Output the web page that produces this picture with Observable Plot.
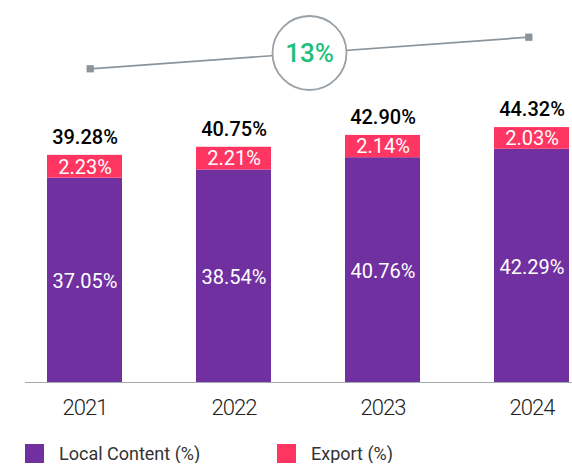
<!DOCTYPE html>
<html>
<head>
<meta charset="utf-8">
<script src="https://cdn.jsdelivr.net/npm/d3@7"></script>
<script src="https://cdn.jsdelivr.net/npm/@observablehq/plot@0.6"></script>
<style>
  html, body { margin: 0; padding: 0; background: #fff; }
  body { width: 572px; font-family: Roboto, sans-serif; }
  svg { display: block; }
  g[aria-label="x-axis tick label"] text { letter-spacing: -1px; }
  .legend { position: relative; height: 19px; margin-top: 12px; font-size: 18px; line-height: 19px; color: #333; }
  .legend .item { position: absolute; top: 0; display: flex; align-items: center; height: 19px; }
  .legend .sw { width: 19px; height: 19px; margin-right: 15px; }
</style>
</head>
<body>
<div id="topchart"></div>
<div id="chart"></div>
<div class="legend" id="legend"></div>
<script>
// ---- data ----
const years = ["2021", "2022", "2023", "2024"];
const localContent = [37.05, 38.54, 40.76, 42.29];
const exportShare = [2.23, 2.21, 2.14, 2.03];
const totals = [39.28, 40.75, 42.90, 44.32];
const seriesNames = ["Local Content (%)", "Export (%)"];
const seriesColors = ["#7030a0", "#ff3562"];

const rows = years.map((year, i) => ({
  year, local: localContent[i], exp: exportShare[i], total: totals[i]
}));
const pct = v => v.toFixed(2) + "%";

// ---- growth indicator (first year -> last year) ----
const firstRow = rows[0], lastRow = rows[rows.length - 1];
const trend = [firstRow, lastRow].map(d => ({ year: +d.year, total: d.total }));
const growth = Math.round((lastRow.total / firstRow.total - 1) * 100);
const mid = [{
  year: (trend[0].year + trend[1].year) / 2,
  total: (trend[0].total + trend[1].total) / 2,
  label: growth + "%"
}];

const topPlot = Plot.plot({
  width: 572, height: 96, margin: 0,
  x: { domain: [trend[0].year, trend[1].year], range: [89.7, 528.3], axis: null },
  y: { domain: [trend[0].total, trend[1].total], range: [68.3, 36.7], axis: null },
  style: { fontFamily: "Roboto, sans-serif", background: "white" },
  marks: [
    Plot.line(trend, { x: "year", y: "total", stroke: "#8b949b", strokeWidth: 1.7 }),
    Plot.dot(trend, { x: "year", y: "total", symbol: "square", r: 4.1, fill: "#8b949b" }),
    Plot.dot(mid, { x: "year", y: "total", r: 37, fill: "white", stroke: "#9aa1a7", strokeWidth: 1.8 }),
    Plot.text(mid, { x: "year", y: "total", text: "label", fill: "#1dbf7a", fontSize: 26, fontWeight: 500, dy: 1 })
  ]
});
document.getElementById("topchart").append(topPlot);

// ---- stacked bars ----
const chart = Plot.plot({
  width: 572, height: 336,
  marginLeft: 25, marginRight: 0, marginTop: 0, marginBottom: 50,
  x: { type: "band", domain: years, range: [9.75, 605.75], paddingInner: 0.5, paddingOuter: 0.25, label: null },
  y: { domain: [0, 51.86], axis: null },
  style: { fontFamily: "Roboto, sans-serif", fontSize: "22px", color: "#222", background: "white" },
  marks: [
    Plot.barY(rows, { x: "year", y1: 0, y2: "local", fill: seriesColors[0] }),
    Plot.barY(rows, { x: "year", y1: "local", y2: "total", fill: seriesColors[1], insetTop: -10.5 }),
    Plot.ruleY([0], { stroke: "#a3abb1", strokeWidth: 1 }),
    Plot.axisX({ tickSize: 0, tickPadding: 17, fontWeight: 300, label: null }),
    Plot.text(rows, { x: "year", y: d => d.local / 2, text: d => pct(d.local), fill: "white", fontSize: 20, dy: 1.5 }),
    Plot.text(rows, { x: "year", y: "local", text: d => pct(d.exp), fill: "white", fontSize: 20, dy: -11 }),
    Plot.text(rows, { x: "year", y: "total", text: d => pct(d.total), fill: "#000", fontSize: 20, fontWeight: 500, lineAnchor: "bottom", dy: -22 })
  ]
});
document.getElementById("chart").append(chart);

// ---- legend ----
const legend = document.getElementById("legend");
const lefts = [25, 277];
seriesNames.forEach((name, i) => {
  const item = document.createElement("div");
  item.className = "item";
  item.style.left = lefts[i] + "px";
  const sw = document.createElement("span");
  sw.className = "sw";
  sw.style.background = seriesColors[i];
  const t = document.createElement("span");
  t.textContent = name;
  item.append(sw, t);
  legend.append(item);
});
</script>
</body>
</html>
